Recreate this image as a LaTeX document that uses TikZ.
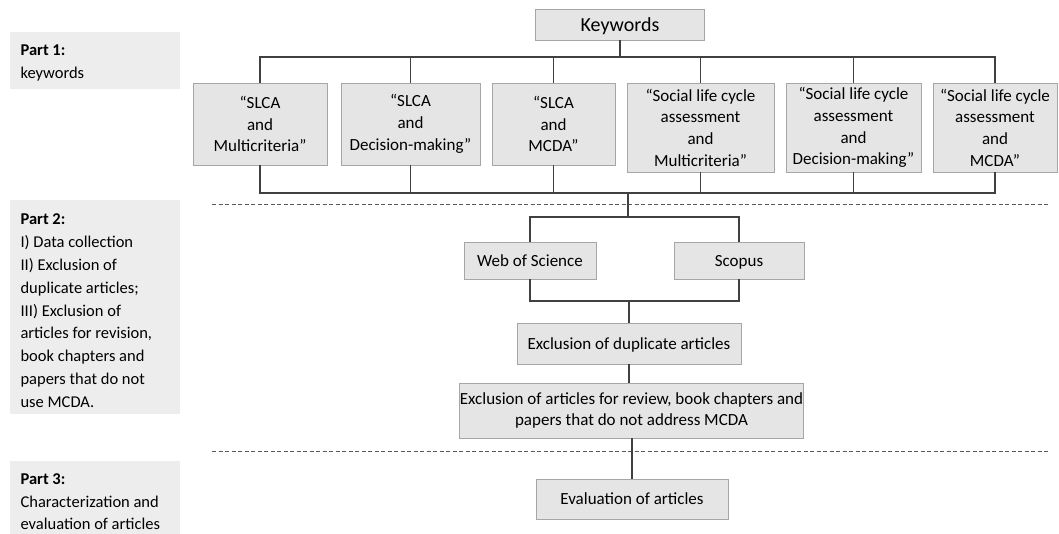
\documentclass[tikz,border=0pt]{standalone}
\usepackage{fontspec}
\setmainfont{Carlito}
\begin{document}
\begin{tikzpicture}[x=1pt,y=-1pt,line width=1.1pt,
  every node/.style={font=\fontsize{17}{21.7}\selectfont,inner sep=0pt},
  box/.style={draw=black!35,fill=black!10,align=center,line width=.9pt},
  one/.style={text height=11pt,text depth=0pt},
  panel/.style={fill=black!7},
  part/.style={anchor=north west,align=flush left,text width=158,
    font=\fontsize{16.5}{22.8}\selectfont},
  link/.style={draw=black!75},
  sep/.style={draw=black!65,dashed,dash pattern=on 4pt off 2.5pt,line width=.9pt}]
  \path[use as bounding box] (0,0) rectangle (1059,533);
  % left side
  \fill[panel] (10,32) rectangle (180,89);
  \fill[panel] (10,200) rectangle (180,414);
  \fill[panel] (10,461) rectangle (180,540);
  \node[part] (p1) at (20,44.5) {\textbf{Part 1:}\\keywords};
  \node[part] (p2) at (20,213.5) {\textbf{Part 2:}\\I) Data collection\\II) Exclusion of\\duplicate articles;\\III) Exclusion of\\articles for revision,\\book chapters and\\papers that do not\\use MCDA.};
  \node[part] (p3) at (20,473) {\textbf{Part 3:}\\Characterization and\\evaluation of articles};
  \draw[sep] (212,204)--(1050,204);
  \draw[sep] (212,451)--(1048,451);
  % keywords
  \node[box,minimum width=169,minimum height=31,font=\fontsize{20}{24}\selectfont,text height=13pt,text depth=0pt] (kw) at (620,24.5) {Keywords};
  \node[box,minimum width=134,minimum height=82] (k1) at (260,124) {“SLCA\\and\\Multicriteria”};
  \node[box,minimum width=139,minimum height=82] (k2) at (410.5,124) {“SLCA\\and\\Decision-making”};
  \node[box,minimum width=123,minimum height=82] (k3) at (553.5,124) {“SLCA\\and\\MCDA”};
  \node[box,minimum width=147,minimum height=89] (k4) at (700.5,127.5) {“Social life cycle\\assessment\\and\\Multicriteria”};
  \node[box,minimum width=135,minimum height=89] (k5) at (853.5,127.5) {“Social life cycle\\assessment\\and\\Decision-making”};
  \node[box,minimum width=124,minimum height=89] (k6) at (995,127.5) {“Social life cycle\\assessment\\and\\MCDA”};
  \coordinate (top) at (620,57);
  \coordinate (bot) at (628,193);
  \draw[link] (kw.south)--(top);
  \draw[link] (k1.north) |- (top) -| (k6.north);
  \draw[link] (k1.south) |- (bot) -| (k6.south);
  \foreach \k in {k2,k3,k4,k5} {
    \draw[link] (\k.north)--(\k.north |- top);
    \draw[link] (\k.south)--(\k.south |- bot);
  }
  % databases
  \node[box,one,minimum width=132,minimum height=37] (wos) at (530,260.5) {Web of Science};
  \node[box,one,minimum width=130,minimum height=37] (sco) at (739,260.5) {Scopus};
  \coordinate (src) at (628,217);
  \coordinate (mrg) at (629,301);
  \draw[link] (bot)--(src);
  \draw[link] (wos.north) |- (src) -| (sco.north);
  \draw[link] (wos.south) |- (mrg) -| (sco.south);
  % exclusion and evaluation
  \node[box,one,minimum width=224,minimum height=41] (dup) at (629,343.5) {Exclusion of duplicate articles};
  \node[box,minimum width=341,minimum height=55] (rev) at (631.5,410.5) {Exclusion of articles for review, book chapters and\\papers that do not address MCDA};
  \node[box,one,minimum width=192,minimum height=40] (eva) at (632,499) {Evaluation of articles};
  \draw[link] (mrg)--(dup.north);
  \draw[link] (dup.south)--(dup.south |- rev.north);
  \draw[link] (eva.north |- rev.south)--(eva.north);
\end{tikzpicture}
\end{document}
